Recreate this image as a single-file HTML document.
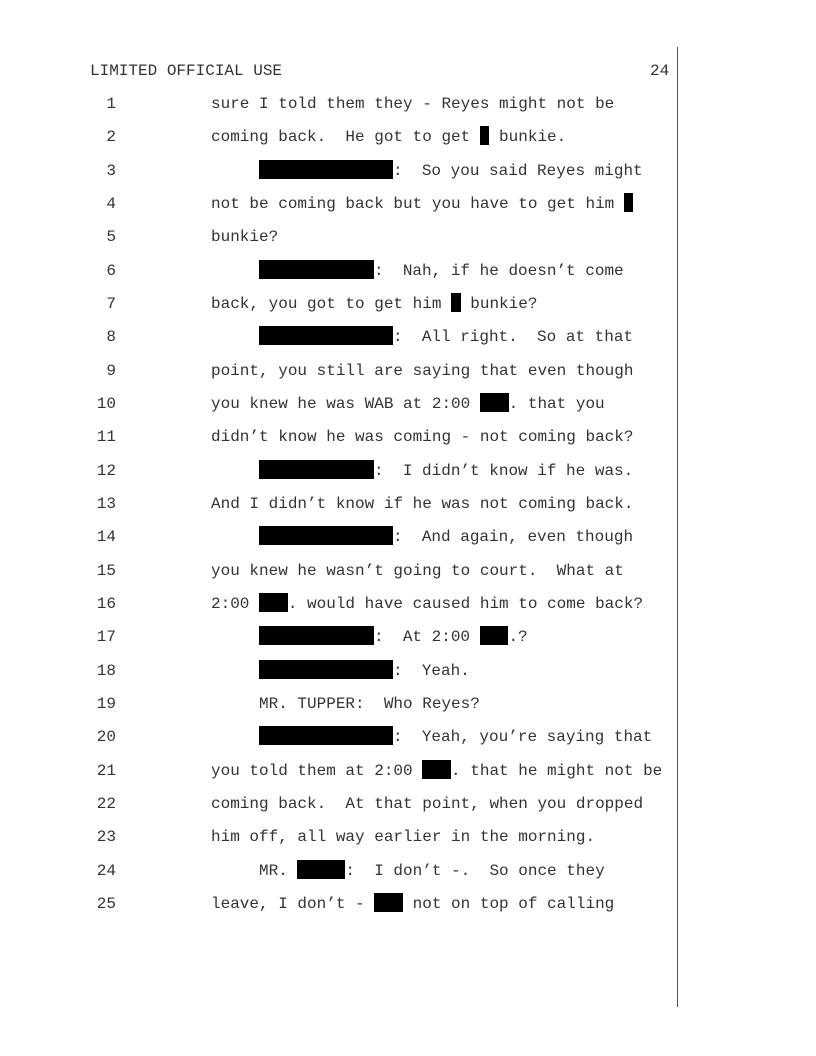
<!DOCTYPE html>
<html><head><meta charset="utf-8"><style>
body{margin:0;width:816px;height:1056px;background:#fff;position:relative;overflow:hidden;font-family:"Liberation Mono","Courier New",monospace;font-size:16px;color:#333;}
.l{position:absolute;left:0;width:816px;height:34px;line-height:34px;white-space:pre;}
.n{position:absolute;left:60px;width:56px;text-align:right;}
.t{position:absolute;left:211px;}
.b{display:inline-block;background:#000;height:19px;vertical-align:-4px;}
.hd{position:absolute;top:61px;left:90px;line-height:20px;white-space:pre;}
.pg{position:absolute;top:61px;left:650px;line-height:20px;}
.vl{position:absolute;left:677px;top:47px;width:1px;height:960px;background:#555;}
</style></head><body>
<div class="hd">LIMITED OFFICIAL USE</div>
<div class="pg">24</div>
<div class="vl"></div>
<div style="position:absolute;left:0;top:1px;width:816px;height:1000px;">
<div class="l" style="top:86px"><span class="n">1</span><span class="t">sure I told them they - Reyes might not be</span></div>
<div class="l" style="top:119.3px"><span class="n">2</span><span class="t">coming back.  He got to get <span class="b" style="width:9.6px"></span> bunkie.</span></div>
<div class="l" style="top:152.7px"><span class="n">3</span><span class="t">     <span class="b" style="width:134px"></span>:  So you said Reyes might</span></div>
<div class="l" style="top:186px"><span class="n">4</span><span class="t">not be coming back but you have to get him <span class="b" style="width:9.6px"></span></span></div>
<div class="l" style="top:219.3px"><span class="n">5</span><span class="t">bunkie?</span></div>
<div class="l" style="top:252.7px"><span class="n">6</span><span class="t">     <span class="b" style="width:115px"></span>:  Nah, if he doesn’t come</span></div>
<div class="l" style="top:286px"><span class="n">7</span><span class="t">back, you got to get him <span class="b" style="width:9.6px"></span> bunkie?</span></div>
<div class="l" style="top:319.3px"><span class="n">8</span><span class="t">     <span class="b" style="width:134px"></span>:  All right.  So at that</span></div>
<div class="l" style="top:352.7px"><span class="n">9</span><span class="t">point, you still are saying that even though</span></div>
<div class="l" style="top:386px"><span class="n">10</span><span class="t">you knew he was WAB at 2:00 <span class="b" style="width:28.8px"></span>. that you</span></div>
<div class="l" style="top:419.3px"><span class="n">11</span><span class="t">didn’t know he was coming - not coming back?</span></div>
<div class="l" style="top:452.7px"><span class="n">12</span><span class="t">     <span class="b" style="width:115px"></span>:  I didn’t know if he was.</span></div>
<div class="l" style="top:486px"><span class="n">13</span><span class="t">And I didn’t know if he was not coming back.</span></div>
<div class="l" style="top:519.3px"><span class="n">14</span><span class="t">     <span class="b" style="width:134px"></span>:  And again, even though</span></div>
<div class="l" style="top:552.7px"><span class="n">15</span><span class="t">you knew he wasn’t going to court.  What at</span></div>
<div class="l" style="top:586px"><span class="n">16</span><span class="t">2:00 <span class="b" style="width:28.8px"></span>. would have caused him to come back?</span></div>
<div class="l" style="top:619.3px"><span class="n">17</span><span class="t">     <span class="b" style="width:115px"></span>:  At 2:00 <span class="b" style="width:28.8px"></span>.?</span></div>
<div class="l" style="top:652.7px"><span class="n">18</span><span class="t">     <span class="b" style="width:134px"></span>:  Yeah.</span></div>
<div class="l" style="top:686px"><span class="n">19</span><span class="t">     MR. TUPPER:  Who Reyes?</span></div>
<div class="l" style="top:719.3px"><span class="n">20</span><span class="t">     <span class="b" style="width:134px"></span>:  Yeah, you’re saying that</span></div>
<div class="l" style="top:752.7px"><span class="n">21</span><span class="t">you told them at 2:00 <span class="b" style="width:28.8px"></span>. that he might not be</span></div>
<div class="l" style="top:786px"><span class="n">22</span><span class="t">coming back.  At that point, when you dropped</span></div>
<div class="l" style="top:819.3px"><span class="n">23</span><span class="t">him off, all way earlier in the morning.</span></div>
<div class="l" style="top:852.7px"><span class="n">24</span><span class="t">     MR. <span class="b" style="width:48px"></span>:  I don’t -.  So once they</span></div>
<div class="l" style="top:886px"><span class="n">25</span><span class="t">leave, I don’t - <span class="b" style="width:28.8px"></span> not on top of calling</span></div>
</div>
</body></html>
